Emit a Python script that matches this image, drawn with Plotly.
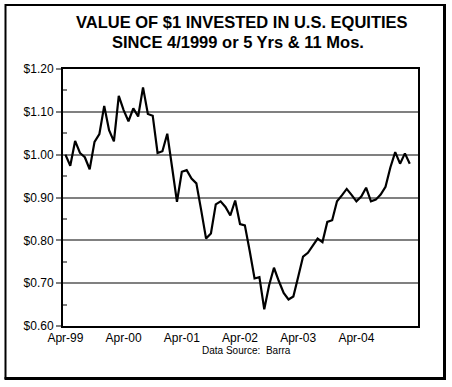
import plotly.graph_objects as go

values = [1.000, 0.974, 1.032, 1.004, 0.994, 0.966, 1.030, 1.048, 1.114, 1.057,
          1.031, 1.137, 1.104, 1.078, 1.108, 1.089, 1.157, 1.095, 1.091, 1.004,
          1.008, 1.049, 0.970, 0.890, 0.960, 0.964, 0.944, 0.933, 0.870, 0.804,
          0.816, 0.884, 0.891, 0.878, 0.858, 0.893, 0.838, 0.835, 0.775, 0.711,
          0.714, 0.639, 0.695, 0.736, 0.705, 0.677, 0.662, 0.669, 0.715, 0.762,
          0.771, 0.787, 0.804, 0.796, 0.843, 0.847, 0.891, 0.905, 0.920, 0.906,
          0.891, 0.902, 0.923, 0.891, 0.895, 0.907, 0.925, 0.970, 1.006, 0.979,
          1.003, 0.979]
months = list(range(len(values)))
tick_positions = [0, 12, 24, 36, 48, 60]
tick_labels = ["Apr-99", "Apr-00", "Apr-01", "Apr-02", "Apr-03", "Apr-04"]
y_ticks = [0.60, 0.70, 0.80, 0.90, 1.00, 1.10, 1.20]
y_labels = ["$%.2f" % v for v in y_ticks]

W, H = 452, 387
L, R, T, B = 63, 418, 69, 326
pw, ph = R - L, B - T

def px(x):
    return (x - L) / pw

def py(y):
    return (B - y) / ph

FONT = "Liberation Sans, Arial, Helvetica, sans-serif"

fig = go.Figure()
fig.add_trace(go.Scatter(x=months, y=values, mode="lines",
                         line=dict(color="black", width=2.2),
                         hoverinfo="skip", showlegend=False))

fig.update_layout(
    width=W, height=H,
    margin=dict(l=L, r=W - R, t=T, b=H - B),
    paper_bgcolor="white", plot_bgcolor="white",
    font=dict(family=FONT, color="black", size=12),
    showlegend=False,
    xaxis=dict(range=[-0.5, 72.7], tickvals=tick_positions, ticktext=tick_labels,
               showgrid=False, zeroline=False, showline=True, linecolor="black",
               linewidth=2, mirror=True, ticks="", tickfont=dict(size=12)),
    yaxis=dict(range=[0.6, 1.2], tickvals=y_ticks, ticktext=y_labels,
               showgrid=True, gridcolor="#808080", gridwidth=1.5,
               zeroline=False, showline=True, linecolor="black", linewidth=2,
               mirror=True, ticks="outside", ticklen=5, tickcolor="#808080",
               tickwidth=2, tickfont=dict(size=12),
               minor=dict(tickvals=[0.65, 0.75, 0.85, 0.95, 1.05, 1.15],
                          ticks="inside", ticklen=4, tickcolor="#808080",
                          tickwidth=2, showgrid=False)),
    annotations=[
        dict(text="<b>VALUE OF $1 INVESTED IN U.S. EQUITIES</b>", x=px(242), y=py(21.7),
             xref="paper", yref="paper", xanchor="center", yanchor="middle",
             showarrow=False, font=dict(size=16.5, family=FONT)),
        dict(text="<b>SINCE 4/1999 or 5 Yrs & 11 Mos.</b>", x=px(237.5), y=py(41.7),
             xref="paper", yref="paper", xanchor="center", yanchor="middle",
             showarrow=False, font=dict(size=16.5, family=FONT)),
        dict(text="Data Source:  Barra", x=px(246.7), y=py(350),
             xref="paper", yref="paper", xanchor="center", yanchor="middle",
             showarrow=False, font=dict(size=10, family=FONT)),
    ],
    shapes=[
        dict(type="rect", xref="paper", yref="paper",
             x0=px(5.5), x1=px(444), y0=py(5), y1=py(378),
             line=dict(color="black", width=2), fillcolor="rgba(0,0,0,0)"),
        dict(type="line", xref="paper", yref="paper",
             x0=px(444.5), x1=px(444.5), y0=py(4), y1=py(380),
             line=dict(color="black", width=3)),
        dict(type="line", xref="paper", yref="paper",
             x0=px(4.5), x1=px(446), y0=py(378.5), y1=py(378.5),
             line=dict(color="black", width=3)),
    ],
)

fig.write_html("out.html", config={"displayModeBar": False},
               post_script="document.body.style.margin='0';document.body.style.overflow='hidden';")
